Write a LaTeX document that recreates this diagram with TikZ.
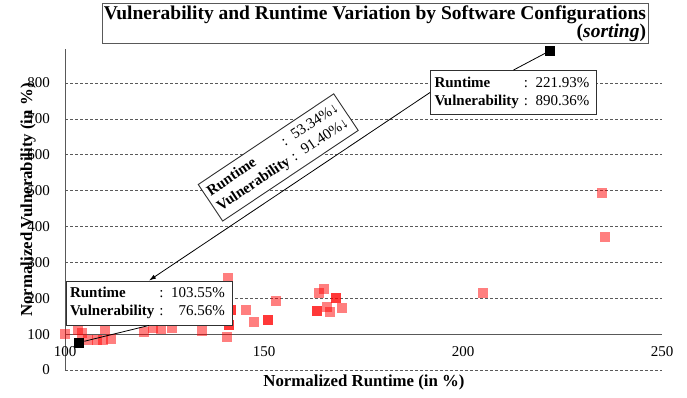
\documentclass[tikz,border=0pt]{standalone}
\usepackage{fontspec}
\setmainfont{Liberation Serif}
\definecolor{ptRed}{HTML}{FF0000}
\definecolor{gridGray}{HTML}{595959}
\definecolor{axisGray}{HTML}{595959}
\definecolor{boxBorder}{HTML}{303030}
\usetikzlibrary{arrows.meta}

\begin{document}
\begin{tikzpicture}[x=1pt, y=1pt,
    ptlight/.style={rectangle, fill=ptRed, fill opacity=0.5, inner sep=0pt, minimum size=10pt},
    ptdark/.style={ptlight, fill opacity=0.78},
    ptblack/.style={rectangle, fill=black, inner sep=0pt, minimum size=10pt},
    callout/.style={draw=boxBorder, fill=white, line width=0.9pt, inner sep=4pt,
                    align=left, font=\fontsize{15}{18}\selectfont},
    ticklbl/.style={font=\fontsize{15}{15}\selectfont, inner sep=0pt},
    axislbl/.style={font=\bfseries\fontsize{16.8}{16.8}\selectfont, inner sep=0pt},
    gridline/.style={draw=gridGray, dash pattern=on 3pt off 2pt, line width=0.6pt},
    axisline/.style={draw=axisGray, line width=0.8pt}]
  \useasboundingbox (0,0) rectangle (687,398);

  \node[draw=gridGray, line width=0.8pt, align=right, inner sep=2pt,
        font=\bfseries\fontsize{19.5}{18}\selectfont] (title) at (375,374.5)
    {Vulnerability and Runtime Variation by Software Configurations\\(\textit{sorting})};

  \begin{scope}[x=3.98pt, y=0.35875pt, shift={(-333pt,28pt)}]
    \foreach \yv in {0,200,300,...,800}
      \draw[gridline] (100,\yv) -- (250,\yv);
    \draw[axisline] (100,100) -- (250,100);
    \draw[axisline] (100,0) -- (100,895);
    \foreach \yv in {0,100,...,800}
      \node[ticklbl, anchor=east] (yt\yv) at ([xshift=-15pt]100,\yv) {\yv};
    \foreach \xv in {100,150,200,250}
      \node[ticklbl] (xt\xv) at (\xv,50) {\xv};

    % configurations
    \foreach \px/\py [count=\i] in {100/100, 103.3/111, 104.3/103, 105.8/84, 108/84,
        109.5/84, 111.6/86, 110/114, 119.8/106, 122.1/117, 124.1/114, 126.9/117,
        134.4/109, 141/256, 140.7/92, 145.5/167, 147.5/134, 153/192, 163.8/215,
        165/226, 165.8/176, 166.6/162, 169.6/173, 205/215, 234.9/493, 235.7/371}
      \node[ptlight] (pl\i) at (\px,\py) {};
    \foreach \px/\py [count=\i] in {141.7/167, 141.2/125, 151/139, 163.3/164, 168.1/201}
      \node[ptdark] (pd\i) at (\px,\py) {};

    \node[ptblack] (lo) at (103.55,76.56) {};
    \node[ptblack] (hi) at (221.93,890.36) {};
  \end{scope}

  \node[axislbl] (xlabel) at (364,16) {Normalized Runtime (in \%)};
  \node[axislbl, rotate=90] (ylabel) at (28,198) {Normalized Vulnerability (in \%)};

  \node[callout, text width=158pt] (boxhi) at (513.5,305.5) {%
    \begin{tabular}{@{}l@{ }l@{}}
      \textbf{Runtime} & : 221.93\% \\
      \textbf{Vulnerability} & : 890.36\%
    \end{tabular}};
  \node[callout, text width=158pt] (boxlo) at (149,95) {%
    \begin{tabular}{@{}l@{ }l@{}}
      \textbf{Runtime} & : 103.55\% \\
      \textbf{Vulnerability} & : \phantom{1}76.56\%
    \end{tabular}};

  \draw[line width=0.8pt] (hi) -- (boxhi.north);
  \draw[line width=0.8pt] (lo) -- (boxlo.south);
  \draw[{Latex[length=7pt,width=4.5pt]}-, line width=0.8pt] (boxlo.north) --
    node[callout, text width=155pt, sloped, above=8pt, pos=0.52] (boxdelta) {%
      \begin{tabular}{@{}l@{ }l@{}}
        \textbf{Runtime} & : 53.34\%↓ \\
        \textbf{Vulnerability} & : 91.40\%↓
      \end{tabular}}
    (boxhi.west);
\end{tikzpicture}
\end{document}
